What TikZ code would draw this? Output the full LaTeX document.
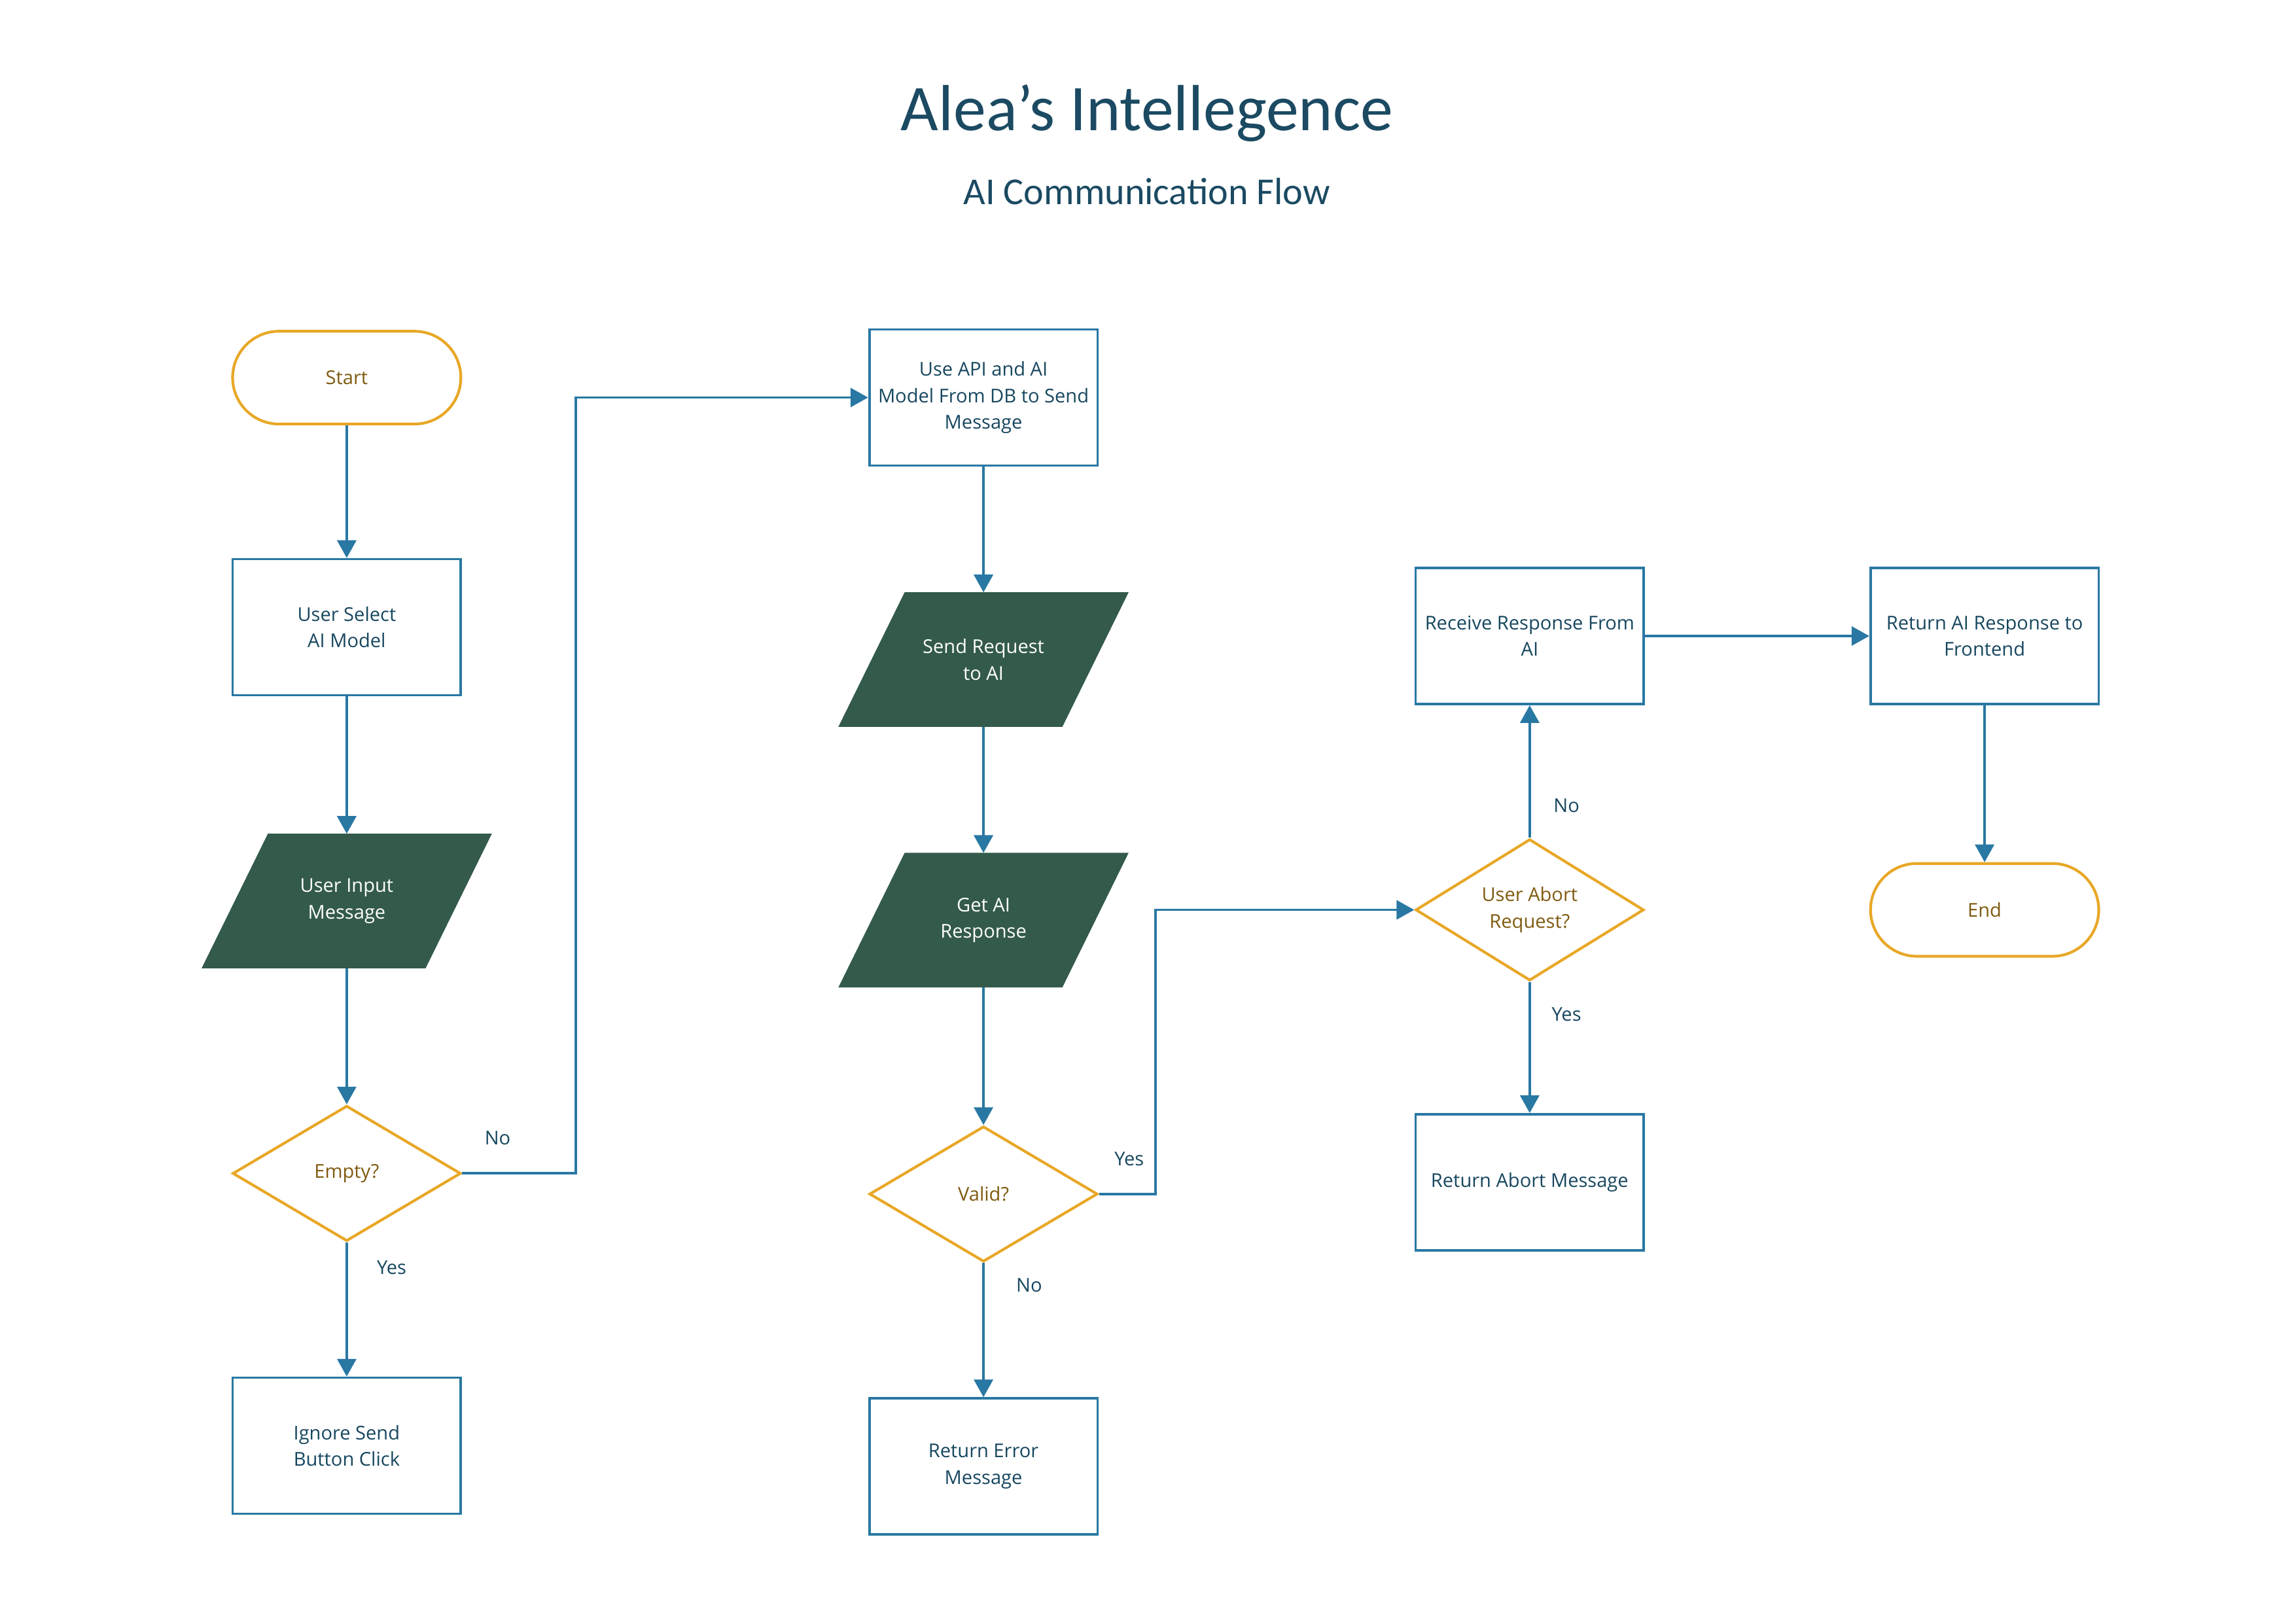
\documentclass[tikz,border=0pt]{standalone}
\usepackage{fontspec}
\setmainfont{Open Sans}
\newfontfamily\titlefont{Carlito}
\usetikzlibrary{shapes.geometric,arrows.meta,calc}
\pgfdeclarelayer{background}
\pgfsetlayers{background,main}
\definecolor{lineblue}{HTML}{2978A3}
\definecolor{navytext}{HTML}{17475F}
\definecolor{termorange}{HTML}{E8A726}
\definecolor{termbrown}{HTML}{7F5A10}
\definecolor{iogreen}{HTML}{335A4A}
\definecolor{titlecol}{HTML}{1B4A62}
\begin{document}
\begin{tikzpicture}[x=0.019045cm,y=-0.019045cm,
  base/.style={font=\fontsize{7}{9.75}\selectfont, align=center, inner sep=0pt},
  procbox/.style={base, rectangle, draw=lineblue, line width=0.9pt, minimum width=2.952cm, minimum height=1.76cm, text=navytext},
  term/.style={base, rectangle, draw=termorange, line width=1pt, rounded corners=0.6cm, minimum width=2.952cm, minimum height=1.2cm, text=termbrown},
  decision/.style={base, diamond, draw=termorange, line width=1pt, minimum width=2.952cm, minimum height=1.752cm, text=termbrown},
  io/.style={base, rectangle, minimum width=3.74cm, minimum height=1.727cm, text=white},
  iofill/.style={fill=iogreen},
  flow/.style={draw=lineblue, line width=0.9pt, -{Triangle[width=7pt,length=6.5pt]}},
  lbl/.style={base, text=navytext}
]
\useasboundingbox (0,0) rectangle (1559.5,1102.7);

% titles
\node[text=titlecol, font=\titlefont\fontsize{24}{28}\selectfont] (title) at (779,77) {Alea’s Intellegence};
\node[text=titlecol, font=\titlefont\fontsize{14}{17}\selectfont] (subtitle) at (779,130) {AI Communication Flow};

% column 1
\node[term] (start) at (235.5,256.5) {Start};
\node[procbox] (sel) at (235.5,426) {User Select\\AI Model};
\node[io] (uin) at (235.5,612) {User Input\\Message};
\node[decision] (empty) at (235.5,797) {Empty?};
\node[procbox] (ign) at (235.5,982) {Ignore Send\\Button Click};

% column 2
\node[procbox] (api) at (668,270) {Use API and AI\\Model From DB to Send\\Message};
\node[io] (send) at (668,448) {Send Request\\to AI};
\node[io] (get) at (668,625) {Get AI\\Response};
\node[decision] (valid) at (668,811) {Valid?};
\node[procbox] (err) at (668,996) {Return Error\\Message};

% column 3
\node[procbox] (recv) at (1039,432) {Receive Response From\\AI};
\node[decision] (abort) at (1039,618) {User Abort\\Request?};
\node[procbox] (rabort) at (1039,803) {Return Abort Message};

% column 4
\node[procbox] (ret) at (1348,432) {Return AI Response to\\Frontend};
\node[term] (end) at (1348,618) {End};

% parallelogram bodies of the input/output nodes
\begin{pgfonlayer}{background}
\foreach \n in {uin,send,get}{
  \fill[iofill] ($(\n.north west)+(45,0)$) -- (\n.north east) -- ($(\n.south east)+(-45,0)$) -- (\n.south west) -- cycle;
}
\end{pgfonlayer}

% bends
\coordinate (k1) at (391,500);
\coordinate (k2) at (785,700);

% connectors
\draw[flow] (start) -- (sel);
\draw[flow] (sel) -- (uin);
\draw[flow] (uin) -- (empty);
\draw[flow] (empty) -- (ign);
\draw[flow] (empty.east) -- (empty.east -| k1) |- (api.west);
\draw[flow] (api) -- (send);
\draw[flow] (send) -- (get);
\draw[flow] (get) -- (valid);
\draw[flow] (valid) -- (err);
\draw[flow] (valid.east) -- (valid.east -| k2) |- (abort.west);
\draw[flow] (abort) -- (recv);
\draw[flow] (abort) -- (rabort);
\draw[flow] (recv) -- (ret);
\draw[flow] (ret) -- (end);

% labels
\node[lbl] (lno1) at (338,773) {No};
\node[lbl] (lyes1) at (266,861) {Yes};
\node[lbl] (lno2) at (699,873) {No};
\node[lbl] (lyes2) at (767,787) {Yes};
\node[lbl] (lno3) at (1064,547) {No};
\node[lbl] (lyes3) at (1064,689) {Yes};
\end{tikzpicture}
\end{document}
